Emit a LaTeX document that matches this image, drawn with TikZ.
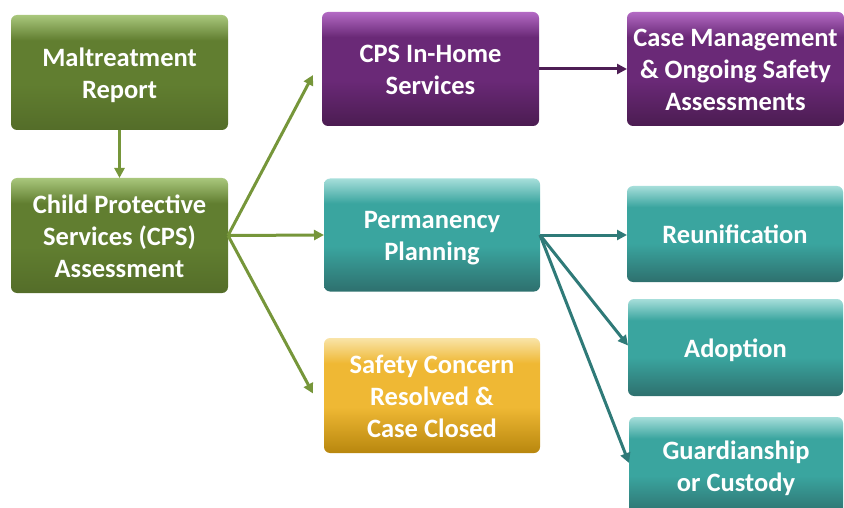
\documentclass[tikz,border=0pt]{standalone}
\usepackage{fontspec}
\setmainfont{Carlito}
\usetikzlibrary{arrows.meta}
\definecolor{gT}{HTML}{A9C77C}
\definecolor{gM}{HTML}{617E30}
\definecolor{gB}{HTML}{546D29}
\definecolor{pT}{HTML}{B36AC4}
\definecolor{pM}{HTML}{6A2977}
\definecolor{pB}{HTML}{4B1C51}
\definecolor{tT}{HTML}{A6DEDA}
\definecolor{tM}{HTML}{3AA59F}
\definecolor{tB}{HTML}{2E706E}
\definecolor{yT}{HTML}{F9E4A8}
\definecolor{yM}{HTML}{EFB834}
\definecolor{yB}{HTML}{B8870E}
\definecolor{gArrow}{HTML}{76963A}
\definecolor{pArrow}{HTML}{4E1E55}
\definecolor{tArrow}{HTML}{2F7A78}
\pgfdeclareverticalshading{shgreen}{100bp}{color(0bp)=(gB); color(25bp)=(gB); color(45bp)=(gM); color(64bp)=(gM); color(75bp)=(gT); color(100bp)=(gT)}
\pgfdeclareverticalshading{shpurple}{100bp}{color(0bp)=(pB); color(25bp)=(pB); color(45bp)=(pM); color(64bp)=(pM); color(75bp)=(pT); color(100bp)=(pT)}
\pgfdeclareverticalshading{shteal}{100bp}{color(0bp)=(tB); color(25bp)=(tB); color(45bp)=(tM); color(64bp)=(tM); color(75bp)=(tT); color(100bp)=(tT)}
\pgfdeclareverticalshading{shgold}{100bp}{color(0bp)=(yB); color(25bp)=(yB); color(45bp)=(yM); color(64bp)=(yM); color(75bp)=(yT); color(100bp)=(yT)}
\newcommand{\boxlines}[1]{\begin{tabular}{@{}c@{}}\rule{0pt}{29.5pt}#1\end{tabular}}
\tikzset{
  box/.style={rectangle, rounded corners=6pt, minimum width=217pt, outer sep=0pt, inner sep=0pt,
    text=white, font=\fontsize{26.5}{32}\selectfont\bfseries},
  greenbox/.style={box, shading=shgreen},
  purplebox/.style={box, shading=shpurple},
  tealbox/.style={box, shading=shteal},
  goldbox/.style={box, shading=shgold},
  conn/.style={line width=3pt, -{Triangle[length=10pt,width=10pt]}},
}
\begin{document}
\begin{tikzpicture}[x=1pt,y=-1pt]
\useasboundingbox (0,0) rectangle (844,508);
\node[greenbox, minimum height=115pt] (mal) at (119.5,72.5) {\boxlines{Maltreatment\\Report}};
\node[greenbox, minimum height=115pt] (cps) at (119.5,235.5) {\boxlines{Child Protective\\Services (CPS)\\Assessment}};
\node[purplebox, minimum height=114pt] (inhome) at (430.5,69) {\boxlines{CPS In-Home\\Services}};
\node[purplebox, minimum height=114pt] (casemgmt) at (735.5,69) {\boxlines{Case Management\\\& Ongoing Safety\\Assessments}};
\node[tealbox, minimum height=113pt, minimum width=216pt] (perm) at (432,235) {\boxlines{Permanency\\Planning}};
\node[goldbox, minimum height=115pt, minimum width=216pt] (safety) at (432,395.5) {\boxlines{Safety Concern\\Resolved \&\\Case Closed}};
\node[tealbox, minimum height=96pt, minimum width=216pt] (reun) at (735,234) {\boxlines{Reunification}};
\node[tealbox, minimum height=97pt, minimum width=215pt] (adopt) at (735.5,347.5) {\boxlines{Adoption}};
\node[tealbox, minimum height=98pt, minimum width=214pt] (guard) at (736,466) {\boxlines{Guardianship\\or Custody}};

\draw[conn, gArrow] (mal.south) -- (cps.north);
\draw[conn, gArrow] (cps.east) -- ([xshift=-9pt,yshift=-6pt]inhome.west);
\draw[conn, gArrow] (cps.east) -- (perm.west);
\draw[conn, gArrow] (cps.east) -- ([xshift=-11pt,yshift=2pt]safety.west);
\draw[conn, pArrow] (inhome.east) -- (casemgmt.west);
\draw[conn, tArrow] (perm.east) -- ([yshift=-1pt]reun.west);
\draw[conn, tArrow] (perm.east) -- ([yshift=2pt]adopt.west);
\draw[conn, tArrow] (perm.east) -- ([yshift=3pt]guard.west);
\end{tikzpicture}
\end{document}
